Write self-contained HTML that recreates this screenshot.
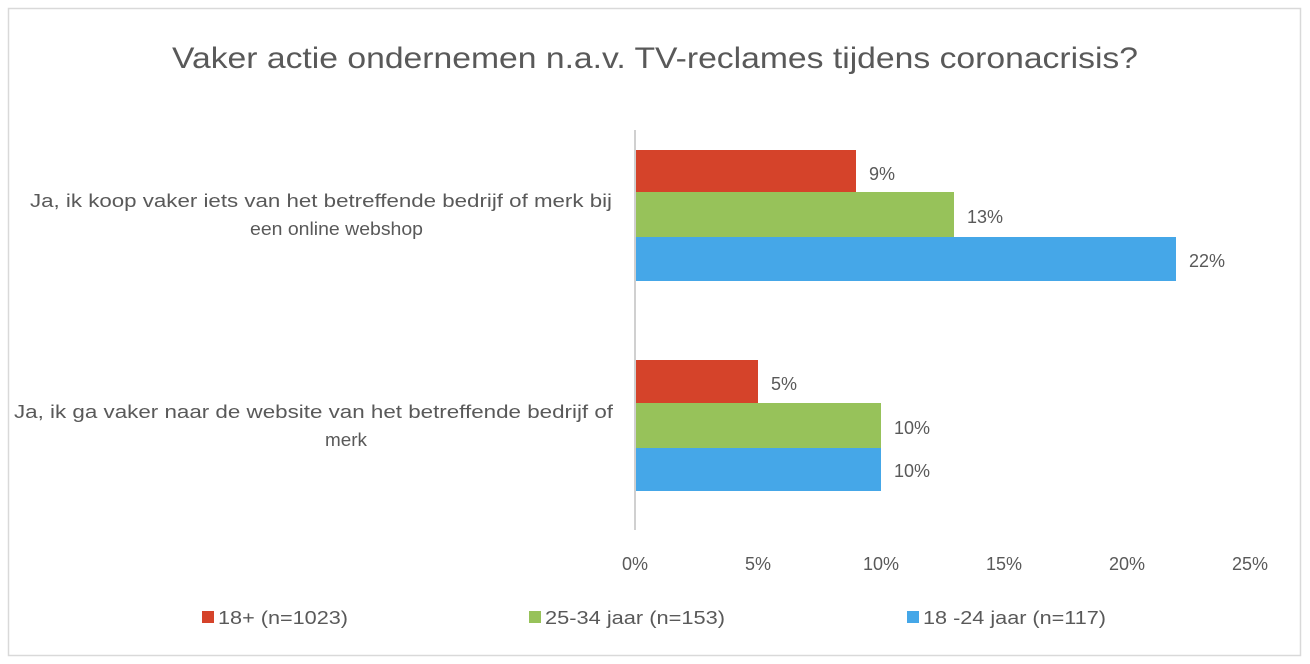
<!DOCTYPE html>
<html><head><meta charset="utf-8"><style>
body{margin:0;background:#fff;}
svg{display:block;font-family:"Liberation Sans",sans-serif;}
</style></head><body>
<svg width="1310" height="664" xmlns="http://www.w3.org/2000/svg">
<rect x="0" y="0" width="1310" height="664" fill="#fff"/>
<rect x="8.5" y="8.5" width="1292" height="647" fill="none" stroke="#d9d9d9" stroke-width="1.5"/>
<text x="172" y="68" font-size="30" fill="#595959" textLength="966" lengthAdjust="spacingAndGlyphs">Vaker actie ondernemen n.a.v. TV-reclames tijdens coronacrisis?</text>
<g fill="#595959" font-size="18">
<text x="30" y="207" textLength="582" lengthAdjust="spacingAndGlyphs">Ja, ik koop vaker iets van het betreffende bedrijf of merk bij</text>
<text x="250" y="235" textLength="173" lengthAdjust="spacingAndGlyphs">een online webshop</text>
<text x="14" y="418" textLength="599" lengthAdjust="spacingAndGlyphs">Ja, ik ga vaker naar de website van het betreffende bedrijf of</text>
<text x="325" y="446" textLength="42" lengthAdjust="spacingAndGlyphs">merk</text>
</g>
<rect x="635" y="150" width="221" height="42" fill="#D5432A"/>
<rect x="635" y="192" width="319" height="45" fill="#97C25A"/>
<rect x="635" y="237" width="541" height="44" fill="#45A7E8"/>
<rect x="635" y="360" width="123" height="43" fill="#D5432A"/>
<rect x="635" y="403" width="246" height="45" fill="#97C25A"/>
<rect x="635" y="448" width="246" height="43" fill="#45A7E8"/>
<line x1="635" y1="130" x2="635" y2="530" stroke="#d0d0d0" stroke-width="2"/>
<g fill="#595959" font-size="18">
<text x="869" y="180">9%</text>
<text x="967" y="223">13%</text>
<text x="1189" y="267">22%</text>
<text x="771" y="390">5%</text>
<text x="894" y="434">10%</text>
<text x="894" y="477">10%</text>
</g>
<g fill="#595959" font-size="18" text-anchor="middle">
<text x="635" y="570">0%</text>
<text x="758" y="570">5%</text>
<text x="881" y="570">10%</text>
<text x="1004" y="570">15%</text>
<text x="1127" y="570">20%</text>
<text x="1250" y="570">25%</text>
</g>
<g font-size="18" fill="#595959">
<rect x="202" y="611" width="12" height="12" fill="#D5432A"/>
<text x="218" y="624" textLength="130" lengthAdjust="spacingAndGlyphs">18+ (n=1023)</text>
<rect x="529" y="611" width="12" height="12" fill="#97C25A"/>
<text x="545" y="624" textLength="180" lengthAdjust="spacingAndGlyphs">25-34 jaar (n=153)</text>
<rect x="907" y="611" width="12" height="12" fill="#45A7E8"/>
<text x="923" y="624" textLength="183" lengthAdjust="spacingAndGlyphs">18 -24 jaar (n=117)</text>
</g>
</svg>
</body></html>
